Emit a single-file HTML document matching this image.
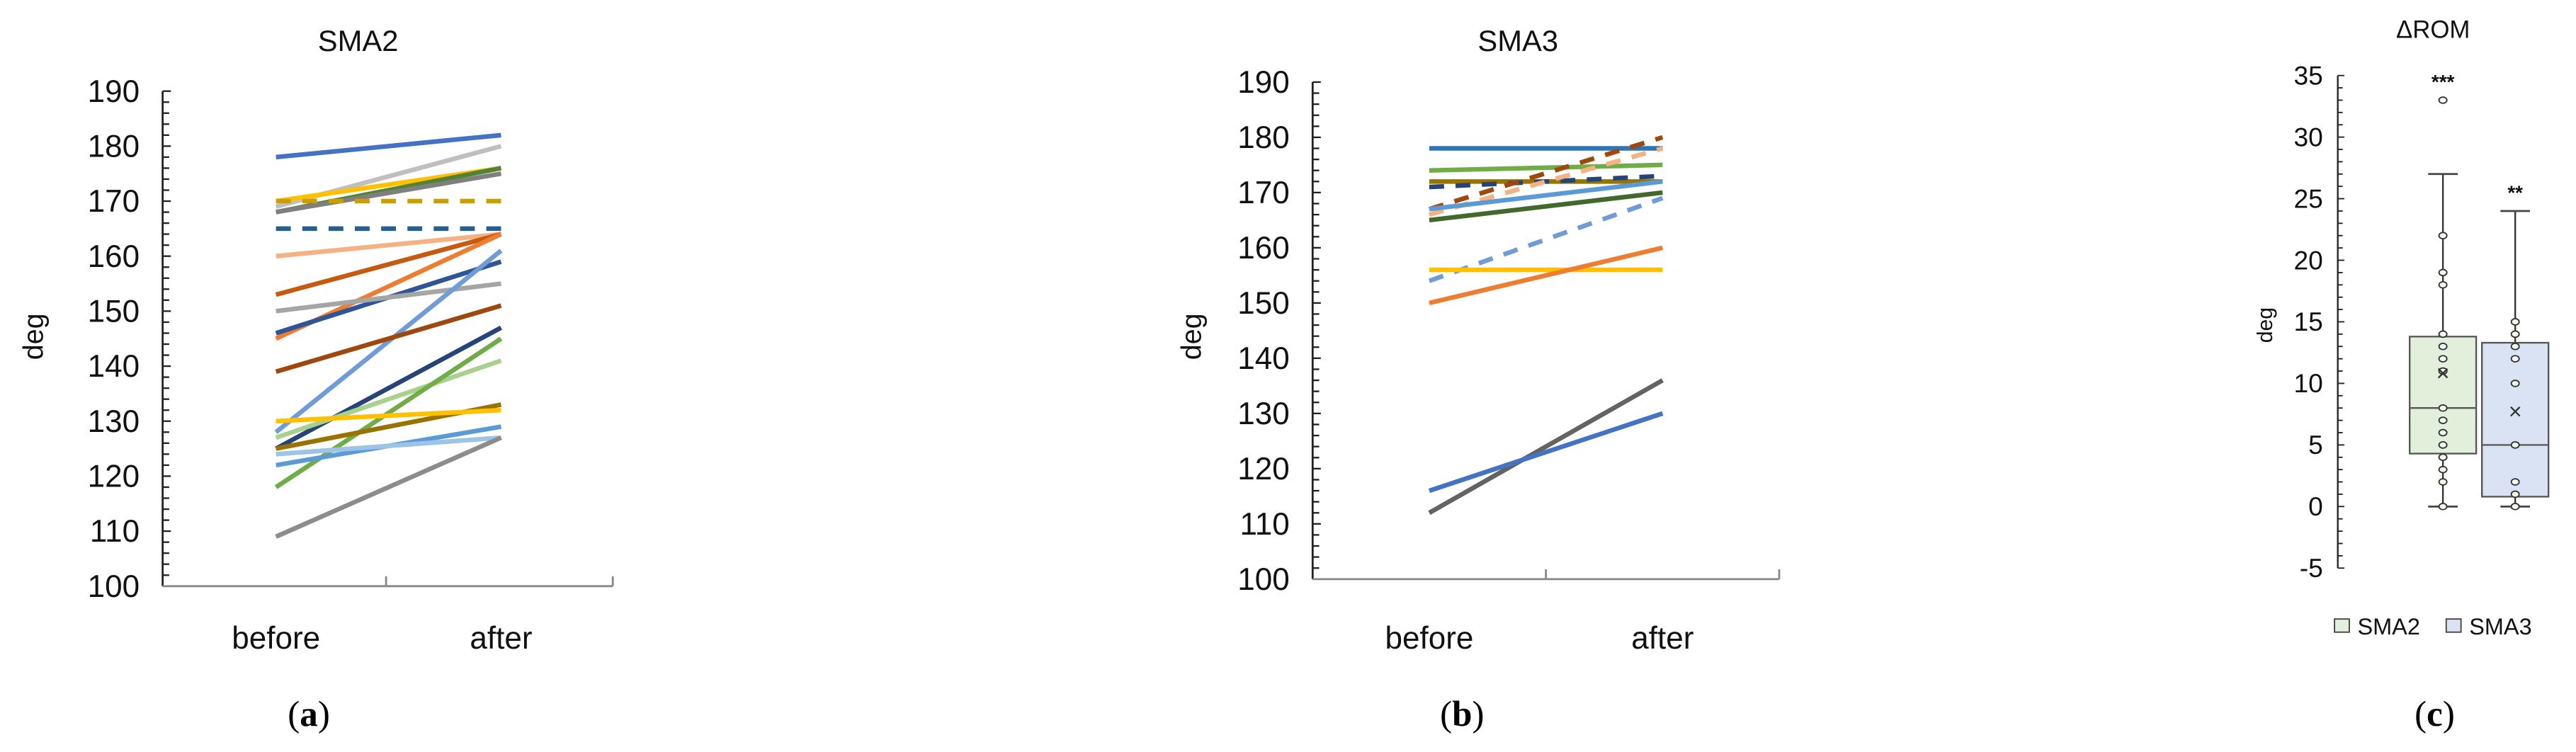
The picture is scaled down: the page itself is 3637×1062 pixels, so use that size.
<!DOCTYPE html>
<html><head><meta charset="utf-8"><style>
html,body{margin:0;padding:0;background:#fff;}
svg{display:block;font-family:"Liberation Sans",sans-serif;}
</style></head><body>
<svg id="fig" xmlns="http://www.w3.org/2000/svg" width="3637" height="1062" viewBox="0 0 1568 458" preserveAspectRatio="none">
<rect width="1568" height="458" fill="#fff"/>
</svg>
<script>
// ---- Panel (a) SMA2 data ----
const catsA = ["before", "after"];
const beforeA = [178,169,170,168,168,170,165,160,153,145,146,150,128,139,125,127,118,125,130,122,124,109];
const afterA  = [182,180,176,176,175,170,165,164,164,164,159,155,161,151,147,141,145,133,132,129,127,127];
const colorsA = ["#4472C4","#BFBFBF","#FFC000","#548235","#7F7F7F","#C9A000","#255E91","#F4B183","#C55A11","#ED7D31","#2F5597","#A5A5A5","#6F9BD9","#9E480E","#264478","#A9D18E","#70AD47","#997300","#FFC000","#5B9BD5","#9DC3E6","#8C8C8C"];
const dashA   = [0,0,0,0,0,1,1,0,0,0,0,0,0,0,0,0,0,0,0,0,0,0];
// ---- Panel (b) SMA3 data ----
const catsB = ["before", "after"];
const beforeB = [178,174,172,171,167,166,167,165,154,156,150,112,116];
const afterB  = [178,175,172,173,180,178,172,170,169,156,160,136,130];
const colorsB = ["#2E75B6","#70AD47","#997300","#264478","#9E480E","#F4B183","#5B9BD5","#43682B","#6F9BD9","#FFC000","#ED7D31","#636363","#4472C4"];
const dashB   = [0,0,0,1,1,1,0,0,1,0,0,0,0];
const yTicksAB = [100,110,120,130,140,150,160,170,180,190];
// ---- Panel (c) ΔROM data ----
const groupsC = ["SMA2", "SMA3"];
const whiskerTop = [27, 24];
const q3 = [13.8, 13.3];
const median = [8, 5];
const q1 = [4.3, 0.8];
const whiskerBot = [0, 0];
const means = [10.8, 7.7];
const pointsSMA2 = [33,22,19,18,14,13,12,11,11,8,7,6,5,4,3,2,0];
const pointsSMA3 = [15,14,13,12,10,5,2,1,0];
const signif = ["***", "**"];
const signifY = [35, 26];
const yTicksC = [-5,0,5,10,15,20,25,30,35];

const NS = "http://www.w3.org/2000/svg";
const svg = document.getElementById("fig");
function mk(tag, attrs, parent){
  const e = document.createElementNS(NS, tag);
  for (const k in attrs) e.setAttribute(k, attrs[k]);
  (parent||svg).appendChild(e);
  return e;
}
function txt(s, x, y, size, anchor, parent, extra){
  const t = mk("text", Object.assign({x:x, y:y, "font-size":size, "text-anchor":anchor||"middle", fill:"#111"}, extra||{}), parent);
  t.textContent = s;
  return t;
}

function linePanel(cfg){
  const g = mk("g", {});
  
  
  const y = v => cfg.y0 + (v - 100) / 90 * (cfg.y1 - cfg.y0);
  const xCat = i => i === 0 ? cfg.xb : cfg.xa;
  const t = txt(cfg.title, cfg.titleX, 31, 18, "middle", g);
  
  
  const ax = mk("line", {x1:cfg.ax, y1:y(190), x2:cfg.ax, y2:y(100), stroke:"#222", "stroke-width":1.2}, g);
  
  
  for (let v = 100; v <= 190; v += 2){
    mk("line", {x1:cfg.ax, y1:y(v), x2:cfg.ax + (v % 10 === 0 ? 5 : 4), y2:y(v), stroke:"#222", "stroke-width":1}, g);
  }
  yTicksAB.forEach(v => {
    const l = txt(String(v), cfg.ax - 14, y(v) + 6.5, 19, "end", g);
    
    
  });
  const xa = mk("line", {x1:cfg.ax, y1:y(100), x2:cfg.xend, y2:y(100), stroke:"#888", "stroke-width":1.2}, g);
  
  
  mk("line", {x1:cfg.xmid, y1:y(100), x2:cfg.xmid, y2:y(100)-6, stroke:"#888", "stroke-width":1.2}, g);
  mk("line", {x1:cfg.xend, y1:y(100), x2:cfg.xend, y2:y(100)-6, stroke:"#888", "stroke-width":1.2}, g);
  cfg.cats.forEach((c, i) => {
    const l = txt(c, xCat(i), 395, 19, "middle", g);
    
    
  });
  const yl = txt("deg", 0, 0, 17, "middle", g, {transform:"translate(" + cfg.degX + ",205) rotate(-90)"});
  
  
  cfg.before.forEach((b, i) => {
    const a = cfg.after[i];
    const ln = mk("line", {x1:xCat(0), y1:y(b), x2:xCat(1), y2:y(a), stroke:cfg.colors[i], "stroke-width":2.8}, g);
    if (cfg.dash[i]) ln.setAttribute("stroke-dasharray", "9 7");
    
    
  });
  const pl = mk("text", {x:cfg.labelX, y:442, "font-size":22, "text-anchor":"middle", fill:"#000", "font-family":"Liberation Serif, serif"}, g);
  pl.innerHTML = '(<tspan font-weight="bold">' + cfg.letter + '</tspan>)';
  
  
}

linePanel({name:"panel-a-sma2", title:"SMA2", titleX:218, ax:99, xb:168, xa:305, xmid:235, xend:373, y0:357, y1:55.5,
  cats:catsA, before:beforeA, after:afterA, colors:colorsA, dash:dashA, degX:26, labelX:188, letter:"a"});
linePanel({name:"panel-b-sma3", title:"SMA3", titleX:924, ax:799, xb:870, xa:1012, xmid:941, xend:1083, y0:352.7, y1:50,
  cats:catsB, before:beforeB, after:afterB, colors:colorsB, dash:dashB, degX:731, labelX:890, letter:"b"});

// ---- Panel (c) ----
(function(){
  const g = mk("g", {});
  
  
  const y = v => 308.5 - v * 7.5;
  const ax = 1423;
  const cx = [1487, 1531];
  const bw = 40.5;
  const fills = ["#E2EFDA", "#DAE3F3"];
  const t = txt("\u0394ROM", 1481, 23, 15, "middle", g);
  
  
  const a = mk("line", {x1:ax, y1:y(35), x2:ax, y2:y(-5), stroke:"#222", "stroke-width":1}, g);
  
  
  for (let v = -5; v <= 35; v++){
    mk("line", {x1:ax, y1:y(v), x2:ax + (v % 5 === 0 ? 4 : 3), y2:y(v), stroke:"#222", "stroke-width":0.8}, g);
  }
  yTicksC.forEach(v => {
    const l = txt(String(v), ax - 9, y(v) + 5.5, 16, "end", g);
    
    
  });
  const yl = txt("deg", 0, 0, 13, "middle", g, {transform:"translate(1383,198) rotate(-90)"});
  
  
  const pts = [pointsSMA2, pointsSMA3];
  groupsC.forEach((gname, i) => {
    const x = cx[i];
    const w = mk("line", {x1:x, y1:y(whiskerTop[i]), x2:x, y2:y(whiskerBot[i]), stroke:"#333", "stroke-width":1}, g);
    
    
    mk("line", {x1:x - 9, y1:y(whiskerTop[i]), x2:x + 9, y2:y(whiskerTop[i]), stroke:"#444", "stroke-width":1.2}, g);
    mk("line", {x1:x - 9, y1:y(whiskerBot[i]), x2:x + 9, y2:y(whiskerBot[i]), stroke:"#444", "stroke-width":1.2}, g);
    const b = mk("rect", {x:x - bw/2, y:y(q3[i]), width:bw, height:y(q1[i]) - y(q3[i]), fill:fills[i], stroke:"#555", "stroke-width":1}, g);
    
    
    const m = mk("line", {x1:x - bw/2, y1:y(median[i]), x2:x + bw/2, y2:y(median[i]), stroke:"#555", "stroke-width":1}, g);
    
    
    pts[i].forEach(v => {
      const c = mk("ellipse", {cx:x, cy:y(v), rx:2.4, ry:1.9, fill:"#F4F9EE", stroke:"#333", "stroke-width":0.8}, g);
      
      
    });
    const mm = mk("text", {x:x, y:y(means[i]) + 4.5, "font-size":14, "text-anchor":"middle", fill:"#333"}, g);
    mm.textContent = "\u00d7";
    
    
    const s = txt(signif[i], x, y(signifY[i]) + 8, 12, "middle", g, {"font-weight":"bold"});
    
    
  });
  const lg = mk("g", {}, g);
  
  
  [[1421, "SMA2", 1435], [1489, "SMA3", 1503]].forEach((e, i) => {
    const sw = mk("rect", {x:e[0], y:377, width:9, height:8, fill:fills[i], stroke:"#444", "stroke-width":0.8}, lg);
    
    
    const l = txt(e[1], e[2], 386.5, 14, "start", lg);
    
    
  });
  const pl = mk("text", {x:1482, y:442, "font-size":22, "text-anchor":"middle", fill:"#000", "font-family":"Liberation Serif, serif"}, g);
  pl.innerHTML = '(<tspan font-weight="bold">c</tspan>)';
  
  
})();
</script>
</body></html>
